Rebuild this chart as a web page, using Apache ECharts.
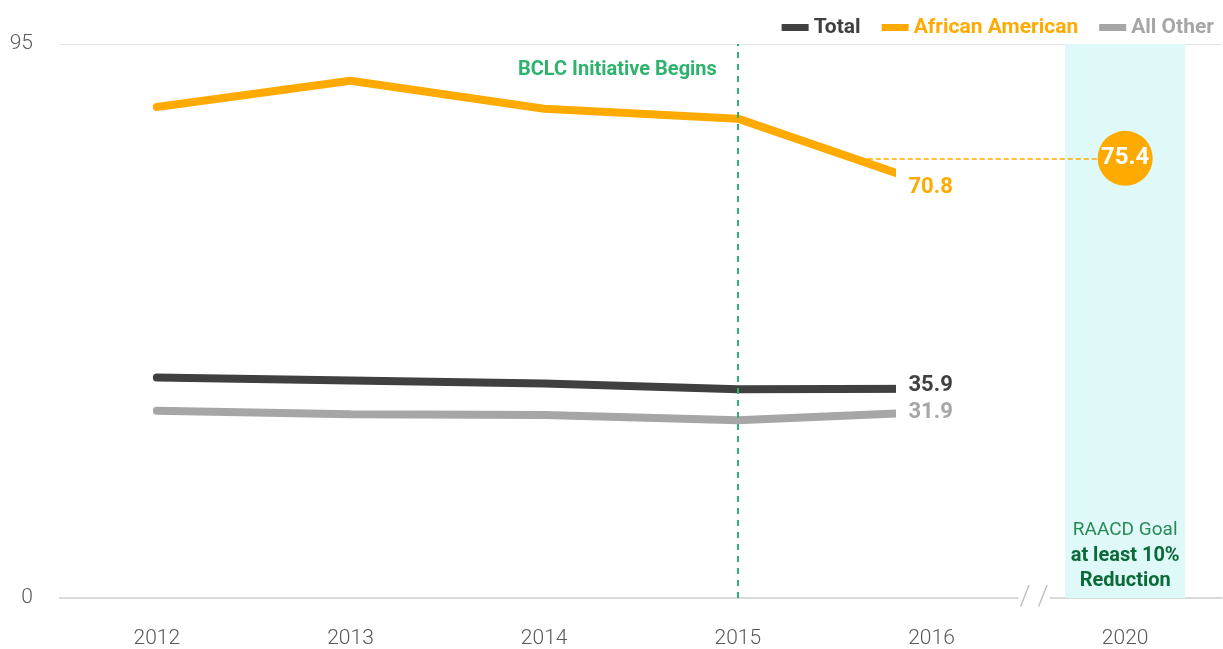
<!DOCTYPE html>
<html>
<head>
<meta charset="utf-8">
<script src="https://cdn.jsdelivr.net/npm/echarts@6/dist/echarts.min.js"></script>
<style>
  html, body { margin: 0; padding: 0; background: #fff; }
  #chart { width: 1223px; height: 649px; }
</style>
</head>
<body>
<div id="chart"></div>
<script>
// data
const years = ["2012", "2013", "2014", "2015", "2016", "2020"];
const totalValues = [37.8, 37.3, 36.8, 35.8, 35.9];
const africanAmericanValues = [84.2, 88.7, 83.9, 82.2, 70.8];
const allOtherValues = [32.1, 31.5, 31.4, 30.5, 31.9];
const goalValue = 75.4;
const initiativeYearIndex = 3;
const yTicks = [0, 95];

const font = "Roboto, 'Open Sans', sans-serif";
const colors = { total: "#404040", aa: "#FFAA00", other: "#A6A6A6", green: "#2DB36B" };
const lineEnd = 3.8; // lines stop a little before the 2016 point

const toPoints = (arr) => arr.map((v, i) => [i, v]);

// hard stop in the stroke so the line ends short of its last point
const cutStroke = (color, n) => {
  const stop = lineEnd / (n - 1);
  return new echarts.graphic.LinearGradient(0, 0, 1, 0, [
    { offset: 0, color },
    { offset: stop, color },
    { offset: stop, color: "rgba(255,255,255,0)" },
    { offset: 1, color: "rgba(255,255,255,0)" },
  ]);
};

const chart = echarts.init(document.getElementById("chart"));

const lineSeries = (name, values, color, dy) => ({
  name,
  type: "line",
  xAxisIndex: 1,
  data: toPoints(values),
  showSymbol: false,
  symbol: "none",
  lineStyle: { color: cutStroke(color, values.length), width: 8, cap: "round" },
  itemStyle: { color },
  endLabel: {
    show: true,
    formatter: (p) => p.value[1].toFixed(1),
    color,
    fontFamily: font,
    fontWeight: "bold",
    fontSize: 22,
    align: "left",
    verticalAlign: "middle",
    distance: 0,
    offset: [-23, dy],
  },
  z: 3,
});

const series = [
  lineSeries("Total", totalValues, colors.total, -3),
  lineSeries("African American", africanAmericanValues, colors.aa, 2),
  lineSeries("All Other", allOtherValues, colors.other, 1),
];

// initiative marker
series[0].markLine = {
  silent: true,
  symbol: "none",
  label: { show: false },
  lineStyle: { color: colors.green, type: [6, 6], width: 2 },
  data: [{ xAxis: initiativeYearIndex }],
};
series[0].markPoint = {
  silent: true,
  symbol: "rect",
  symbolSize: 0,
  data: [{ coord: [initiativeYearIndex, 90.5] }],
  label: {
    show: true,
    formatter: "BCLC Initiative Begins",
    position: "left",
    distance: 21,
    color: colors.green,
    fontFamily: font,
    fontWeight: "bold",
    fontSize: 20,
  },
};

// goal bubble, shaded goal column and axis break
series.push({
  name: "Goal",
  type: "scatter",
  xAxisIndex: 1,
  data: [[years.length - 1, goalValue]],
  symbolSize: 55,
  itemStyle: { color: colors.aa, opacity: 1 },
  label: {
    show: true,
    position: "inside",
    formatter: (p) => p.value[1].toFixed(1),
    color: "#fff",
    fontFamily: font,
    fontWeight: "bold",
    fontSize: 24,
  },
  z: 4,
  markLine: {
    silent: true,
    symbol: "none",
    label: { show: false },
    lineStyle: { color: colors.aa, type: [5, 3], width: 1.5 },
    data: [[{ coord: [3.63, goalValue] }, { coord: [4.86, goalValue] }]],
  },
  markArea: {
    silent: true,
    itemStyle: { color: "#DFF8F8" },
    label: {
      show: true,
      position: "insideBottom",
      distance: 5,
      formatter: "{a|RAACD Goal}\n{b|at least 10%}\n{b|Reduction}",
      rich: {
        a: { color: "#2A8A55", fontFamily: font, fontSize: 19, lineHeight: 26, align: "center" },
        b: { color: "#0B6B38", fontFamily: font, fontWeight: "bold", fontSize: 20, lineHeight: 25, align: "center" },
      },
    },
    data: [[{ xAxis: 4.69, yAxis: yTicks[0] }, { xAxis: 5.31, yAxis: yTicks[1] }]],
  },
  markPoint: {
    silent: true,
    symbol: "rect",
    symbolSize: 0,
    data: [{ coord: [4.53, 0] }],
    label: {
      show: true,
      position: "inside",
      formatter: "/ /",
      color: "#BFBFBF",
      fontFamily: font,
      fontWeight: 300,
      fontSize: 28,
      backgroundColor: "#fff",
      padding: [0, 1],
    },
  },
});

const option = {
  backgroundColor: "#fff",
  animation: false,
  legend: {
    right: 4,
    top: 12,
    icon: "rect",
    itemWidth: 27,
    itemHeight: 7,
    itemGap: 21,
    textStyle: { fontFamily: font, fontWeight: "bold", fontSize: 21 },
    data: [
      { name: "Total", textStyle: { color: colors.total } },
      { name: "African American", textStyle: { color: colors.aa } },
      { name: "All Other", textStyle: { color: colors.other } },
    ],
  },
  grid: { left: 60, right: 1, top: 44, bottom: 51, containLabel: false },
  xAxis: [
    {
      type: "category",
      data: years,
      boundaryGap: true,
      axisTick: { show: false },
      axisLine: { lineStyle: { color: "#D9D9D9", width: 2 } },
      axisLabel: { color: "#595959", fontFamily: font, fontWeight: 300, fontSize: 21, margin: 30 },
      splitLine: { show: false },
    },
    {
      type: "value",
      show: false,
      min: -0.5,
      max: years.length - 0.5,
      splitLine: { show: false },
    },
  ],
  yAxis: {
    type: "value",
    min: yTicks[0],
    max: yTicks[1],
    interval: yTicks[1] - yTicks[0],
    axisLine: { show: false },
    axisTick: { show: false },
    axisLabel: { color: "#595959", fontFamily: font, fontWeight: 300, fontSize: 21, margin: 27 },
    splitLine: { lineStyle: { color: "#E3E3E3", width: 1 } },
  },
  series,
};

chart.setOption(option);
</script>
</body>
</html>
